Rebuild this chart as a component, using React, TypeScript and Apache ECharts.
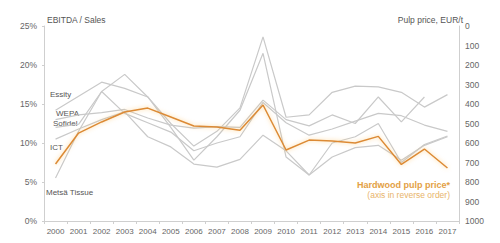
import React, { useEffect, useRef } from "react";
import * as echarts from "echarts";

const years = ["2000","2001","2002","2003","2004","2005","2006","2007","2008","2009","2010","2011","2012","2013","2014","2015","2016","2017"];

// EBITDA / Sales, %
const essity = [14.2, 16.0, 17.8, 17.0, 15.9, 12.5, 9.6, 11.5, 14.5, 23.6, 13.3, 13.6, 16.5, 17.3, 17.2, 16.5, 14.6, 16.2];
const wepa = [13.0, 13.6, 13.9, 14.3, 13.2, 12.3, 11.9, 12.1, 12.0, 15.5, 13.0, 12.2, 13.6, 12.5, 15.9, 12.7, 15.9, null];
const sofidel = [12.0, 12.4, 16.6, 13.8, 12.6, 11.4, 9.0, 10.0, 10.8, 15.2, 12.6, 11.0, 11.8, 12.8, 13.8, 13.5, 12.3, 11.5];
const ict = [10.5, 11.8, 13.0, 14.0, 10.8, 9.5, 7.3, 6.9, 7.9, 11.0, 9.0, 5.9, 8.2, 9.4, 9.7, 7.8, 9.7, 10.8];
const metsaTissue = [5.5, 11.5, 16.6, 18.8, 15.9, 12.0, 7.8, 10.8, 14.2, 21.5, 8.2, 5.9, 10.0, 10.8, 12.5, 7.5, 9.8, 10.9];

// Hardwood pulp price, EUR/t (right axis, reversed)
const pulpPrice = [708, 549, 492, 441, 421, 467, 513, 518, 535, 405, 636, 585, 590, 600, 566, 710, 631, 728];

const companyNames = ["Essity", "WEPA", "Sofidel", "ICT", "Metsä Tissue"];
const companySeries = [essity, wepa, sofidel, ict, metsaTissue];

const FONT = "Liberation Sans, Arial, sans-serif";

export default function App() {
  const ref = useRef<HTMLDivElement>(null);
  useEffect(() => {
    if (!ref.current) return;
    const chart = echarts.init(ref.current, null, { renderer: "svg" });
    const gray = "#c9c9c9";
    const option: any = {
      animation: false,
      backgroundColor: "#ffffff",
      textStyle: { fontFamily: FONT },
      grid: { left: 44, right: 41, top: 26, bottom: 22 },
      xAxis: {
        type: "category",
        data: years,
        boundaryGap: true,
        axisLine: { lineStyle: { color: "#cfcfcf" } },
        axisTick: { show: true, length: 3, interval: 0, lineStyle: { color: "#cfcfcf" } },
        axisLabel: { color: "#666", fontSize: 8, margin: 6, interval: 0, hideOverlap: false, fontFamily: FONT },
      },
      yAxis: [
        {
          type: "value",
          min: 0,
          max: 25,
          interval: 5,
          position: "left",
          axisLine: { show: true, lineStyle: { color: "#cfcfcf" } },
          axisTick: { show: true, length: 2, lineStyle: { color: "#cfcfcf" } },
          splitLine: { show: false },
          axisLabel: { color: "#666", fontSize: 8.5, margin: 7, formatter: "{value}%", fontFamily: FONT },
        },
        {
          type: "value",
          min: 0,
          max: 1000,
          interval: 100,
          inverse: true,
          position: "right",
          axisLine: { show: true, lineStyle: { color: "#cfcfcf" } },
          axisTick: { show: false },
          splitLine: { show: false },
          axisLabel: { color: "#666", fontSize: 8.5, margin: 6, formatter: (v: number) => String(v), fontFamily: FONT },
        },
      ],
      series: [
        ...companySeries.map((d, i) => ({
          name: companyNames[i],
          type: "line",
          yAxisIndex: 0,
          data: d,
          symbol: "none",
          connectNulls: false,
          lineStyle: { color: gray, width: 1.2 },
          z: 2,
        })),
        {
          name: "Hardwood pulp price",
          type: "line",
          yAxisIndex: 1,
          data: pulpPrice,
          symbol: "none",
          lineStyle: {
            color: "#dc8a35",
            width: 1.5,
            shadowColor: "rgba(255,190,90,0.7)",
            shadowBlur: 4,
          },
          z: 5,
        },
      ],
      graphic: [
        { type: "text", left: 47, top: 15, style: { text: "EBITDA / Sales", fill: "#555", fontSize: 8.5, fontFamily: FONT } },
        { type: "text", x: 463, y: 20, style: { text: "Pulp price, EUR/t", fill: "#555", fontSize: 8.5, fontFamily: FONT, align: "right", verticalAlign: "middle" } },
        { type: "text", x: 50, y: 94, style: { text: "Essity", fill: "#555", fontSize: 8, fontFamily: FONT, verticalAlign: "middle" } },
        { type: "text", x: 56, y: 113, style: { text: "WEPA", fill: "#555", fontSize: 8, fontFamily: FONT, verticalAlign: "middle" } },
        { type: "text", x: 53, y: 123, style: { text: "Sofidel", fill: "#555", fontSize: 8, fontFamily: FONT, verticalAlign: "middle" } },
        { type: "text", x: 50, y: 147, style: { text: "ICT", fill: "#555", fontSize: 8, fontFamily: FONT, verticalAlign: "middle" } },
        { type: "text", x: 46, y: 192, style: { text: "Metsä Tissue", fill: "#555", fontSize: 8, fontFamily: FONT, verticalAlign: "middle" } },
        { type: "text", x: 450, y: 185, style: { text: "Hardwood pulp price*", fill: "#e3a045", fontSize: 9, fontWeight: "bold", fontFamily: FONT, align: "right", verticalAlign: "middle" } },
        { type: "text", x: 450, y: 195, style: { text: "(axis in reverse order)", fill: "#e8b46a", fontSize: 8.5, fontFamily: FONT, align: "right", verticalAlign: "middle" } },
      ],
    };
    chart.setOption(option);
    return () => chart.dispose();
  }, []);
  return (
    <div style={{ position: "absolute", left: 0, top: 0, width: 500, height: 243, background: "#fff" }}>
      <div ref={ref} style={{ width: 500, height: 243 }} />
    </div>
  );
}
